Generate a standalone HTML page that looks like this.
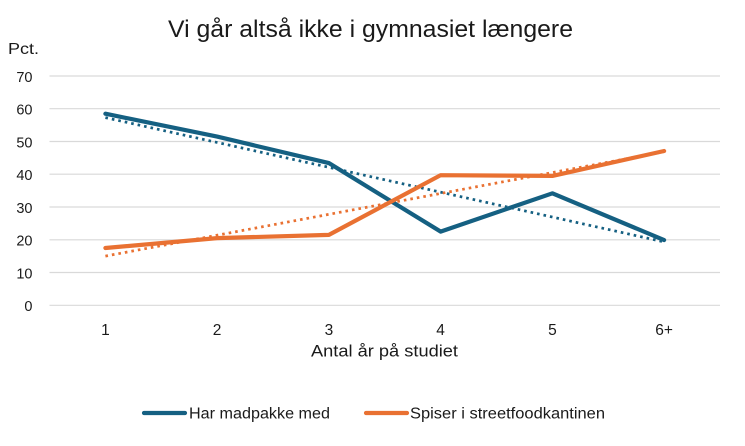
<!DOCTYPE html>
<html>
<head>
<meta charset="utf-8">
<style>
  html,body{margin:0;padding:0;background:#fff;}
  svg{display:block;}
  text{font-family:"Liberation Sans",sans-serif;fill:#1a1a1a;}
</style>
</head>
<body>
<svg width="745" height="446" viewBox="0 0 745 446" xmlns="http://www.w3.org/2000/svg">
  <rect width="745" height="446" fill="#fff"/>
  <!-- title -->
  <text x="370.5" y="37" font-size="24" text-anchor="middle" textLength="405" lengthAdjust="spacingAndGlyphs">Vi går altså ikke i gymnasiet længere</text>
  <text x="8" y="54" font-size="16" textLength="31" lengthAdjust="spacingAndGlyphs">Pct.</text>

  <!-- gridlines -->
  <g stroke="#d9d9d9" stroke-width="1.2">
    <line x1="49.5" y1="76.0" x2="720" y2="76.0"/>
    <line x1="49.5" y1="108.7" x2="720" y2="108.7"/>
    <line x1="49.5" y1="141.5" x2="720" y2="141.5"/>
    <line x1="49.5" y1="174.2" x2="720" y2="174.2"/>
    <line x1="49.5" y1="207.0" x2="720" y2="207.0"/>
    <line x1="49.5" y1="239.8" x2="720" y2="239.8"/>
    <line x1="49.5" y1="272.5" x2="720" y2="272.5"/>
    <line x1="49.5" y1="305.3" x2="720" y2="305.3"/>
  </g>

  <!-- y tick labels -->
  <g font-size="14.5" text-anchor="end">
    <text x="32.5" y="81.8">70</text>
    <text x="32.5" y="114.5">60</text>
    <text x="32.5" y="147.3">50</text>
    <text x="32.5" y="180">40</text>
    <text x="32.5" y="212.8">30</text>
    <text x="32.5" y="245.6">20</text>
    <text x="32.5" y="278.3">10</text>
    <text x="32.5" y="311.1">0</text>
  </g>

  <!-- x tick labels -->
  <g font-size="15.5" text-anchor="middle">
    <text x="105.4" y="335">1</text>
    <text x="217.1" y="335">2</text>
    <text x="328.9" y="335">3</text>
    <text x="440.6" y="335">4</text>
    <text x="552.4" y="335">5</text>
    <text x="664.1" y="335">6+</text>
  </g>
  <text x="384.5" y="356.5" font-size="17" text-anchor="middle" textLength="147" lengthAdjust="spacingAndGlyphs">Antal år på studiet</text>

  <!-- trend lines -->
  <line x1="105.4" y1="117.6" x2="664.1" y2="241.9" stroke="#156082" stroke-width="2.75" stroke-dasharray="2.6 4"/>
  <line x1="105.4" y1="256.1" x2="664.1" y2="151.7" stroke="#E97132" stroke-width="2.75" stroke-dasharray="2.6 4"/>

  <!-- series -->
  <polyline fill="none" stroke="#156082" stroke-width="4.2" stroke-linejoin="round" stroke-linecap="round"
    points="105.4,113.7 217.1,136.6 328.9,163.1 440.6,231.6 552.4,193.3 664.1,240.1"/>
  <polyline fill="none" stroke="#E97132" stroke-width="4.2" stroke-linejoin="round" stroke-linecap="round"
    points="105.4,248.0 217.1,238.1 328.9,234.9 440.6,175.2 552.4,175.9 664.1,151.0"/>

  <!-- legend -->
  <line x1="144" y1="413" x2="185" y2="413" stroke="#156082" stroke-width="4.2" stroke-linecap="round"/>
  <text x="189" y="418.5" font-size="15.5" textLength="141" lengthAdjust="spacingAndGlyphs">Har madpakke med</text>
  <line x1="366" y1="413" x2="407" y2="413" stroke="#E97132" stroke-width="4.2" stroke-linecap="round"/>
  <text x="410" y="418.5" font-size="15.5" textLength="195" lengthAdjust="spacingAndGlyphs">Spiser i streetfoodkantinen</text>
</svg>
</body>
</html>
